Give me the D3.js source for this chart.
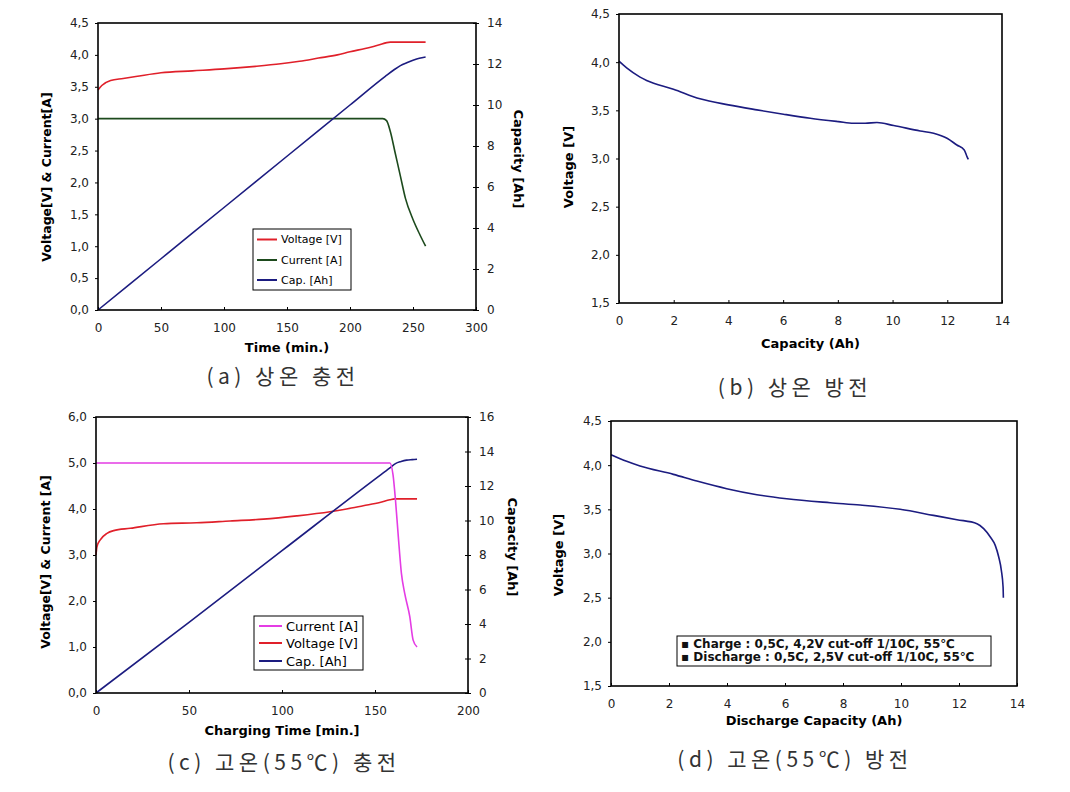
<!DOCTYPE html>
<html><head><meta charset="utf-8">
<script src="https://cdn.jsdelivr.net/npm/d3@7"></script>
<style>body{margin:0;background:#fff}svg{display:block}</style>
</head><body>
<svg id="c" width="1070" height="792"></svg>
<script>
// ---- data ----
// (a) room-temperature charge
const aVoltT = [0,3,10,20,30,50,75,100,125,145,160,175,190,200,212,222,232,245,260];
const aVoltV = [3.45,3.52,3.60,3.63,3.66,3.72,3.75,3.78,3.82,3.86,3.90,3.95,4.00,4.05,4.10,4.15,4.20,4.20,4.20];
const aCurT = [0,100,200,226,229,232,236,240,244,250,255,260];
const aCurI = [3.0,3.0,3.0,3.0,2.97,2.8,2.45,2.1,1.75,1.42,1.2,1.0];
const aCapT = [0,50,100,150,200,228,235,240,245,250,255,260];
const aCapC = [0,2.5,5.0,7.5,10.0,11.4,11.72,11.92,12.06,12.18,12.28,12.34];
// (b) room-temperature discharge
const bCap = [0,0.28,0.77,1.01,1.99,2.96,4.0,5.04,6.01,6.99,8.02,8.57,9.0,9.43,10.04,11.01,11.5,11.99,12.35,12.62,12.72,12.77];
const bVolt = [4.01,3.94,3.845,3.81,3.72,3.62,3.557,3.505,3.46,3.418,3.383,3.366,3.366,3.373,3.342,3.286,3.262,3.21,3.14,3.089,3.02,2.99];
// (c) high-temperature (55C) charge
const cCurT = [0,100,158,159.7,161,162.4,164.2,166,168.7,170.5,172.6];
const cCurI = [5.0,5.0,5.0,4.74,4.2,3.47,2.6,2.16,1.66,1.15,1.0];
const cVoltT = [0,0.5,2.3,5.9,9.5,18.4,36.3,54.2,72.1,90,107.9,125.8,134.7,143.7,152.6,158,160.6,172.6];
const cVoltV = [3.0,3.18,3.33,3.47,3.53,3.58,3.68,3.70,3.74,3.78,3.85,3.94,4.0,4.07,4.14,4.2,4.22,4.22];
const cCapT = [0,50,100,150,158,161,164,167,170,172.6];
const cCapC = [0,4.1,8.25,12.4,13.05,13.3,13.42,13.5,13.53,13.55];
// (d) high-temperature (55C) discharge
const dCap = [0,0.54,1.0,2.15,2.96,3.99,5.03,6.06,7.56,8.59,9.97,11.12,11.93,12.62,12.85,13.08,13.25,13.37,13.46,13.52,13.53];
const dVolt = [4.119,4.043,3.99,3.896,3.82,3.734,3.666,3.62,3.575,3.549,3.5,3.432,3.383,3.338,3.281,3.187,3.092,2.96,2.81,2.62,2.5];
// ticks
const aLeftTicks = [0,0.5,1,1.5,2,2.5,3,3.5,4,4.5];
const aRightTicks = [0,2,4,6,8,10,12,14];
const aXTicks = [0,50,100,150,200,250,300];
const bYTicks = [1.5,2,2.5,3,3.5,4,4.5];
const bXTicks = [0,2,4,6,8,10,12,14];
const cLeftTicks = [0,1,2,3,4,5,6];
const cRightTicks = [0,2,4,6,8,10,12,14,16];
const cXTicks = [0,50,100,150,200];
const dYTicks = [1.5,2,2.5,3,3.5,4,4.5];
const dXTicks = [0,2,4,6,8,10,12,14];
// legend / captions
const aLegend = ["Voltage [V]","Current [A]","Cap. [Ah]"];
const cLegend = ["Current [A]","Voltage [V]","Cap. [Ah]"];
const dNotes = ["▪ Charge : 0,5C, 4,2V cut-off 1/10C, 55℃","▪ Discharge : 0,5C, 2,5V cut-off 1/10C, 55℃"];
const captions = ["(a) 상온 충전","(b) 상온 방전","(c) 고온(55℃) 충전","(d) 고온(55℃) 방전"];

const RED="#e0202a", GREEN="#1d4a1d", NAVY="#1c1c80", MAG="#e43ce4";
const svg = d3.select("#c");
const fmt1 = d => d.toFixed(1).replace(".", ",");
const fmt0 = d => String(d);
const TICKFONT = "DejaVu Sans, sans-serif";

function axisStyle(g){
  g.selectAll("path").remove();
  g.selectAll("line").attr("stroke","#000").attr("stroke-width",1);
  g.selectAll("text").attr("font-family",TICKFONT).attr("font-size",12).attr("fill","#222");
}

function panel(o){
  const x = d3.scaleLinear().domain(o.xd).range([o.x0,o.x1]);
  const y = d3.scaleLinear().domain(o.yd).range([o.y1,o.y0]);
  let y2 = null;
  if (o.y2d) y2 = d3.scaleLinear().domain(o.y2d).range([o.y1,o.y0]);
  svg.append("g").attr("transform",`translate(0,${o.y1})`)
    .call(d3.axisBottom(x).tickValues(o.xt).tickFormat(fmt0).tickSize(4).tickPadding(o.xpad||9))
    .call(axisStyle).call(g=>g.selectAll("line").attr("y1",-3).attr("y2",0));
  svg.append("g").attr("transform",`translate(${o.x0},0)`)
    .call(d3.axisLeft(y).tickValues(o.yt).tickFormat(fmt1).tickSize(3).tickPadding(6))
    .call(axisStyle);
  if (y2) {
    svg.append("g").attr("transform",`translate(${o.x1},0)`)
      .call(d3.axisRight(y2).tickValues(o.y2t).tickFormat(fmt0).tickSize(3).tickPadding(8))
      .call(axisStyle).call(g=>g.selectAll("line").attr("x1",-3).attr("x2",3));
  }
  o.series.forEach(s=>{
    const sc = s.right ? y2 : y;
    const line = d3.line().x((d,i)=>x(s.xs[i])).y((d,i)=>sc(s.ys[i])).curve(d3.curveMonotoneX);
    svg.append("path").datum(s.xs).attr("d",line).attr("fill","none")
      .attr("stroke",s.color).attr("stroke-width",s.w||1.6);
  });
  svg.append("rect").attr("x",o.x0).attr("y",o.y0).attr("width",o.x1-o.x0).attr("height",o.y1-o.y0)
    .attr("fill","none").attr("stroke","#000").attr("stroke-width",1.6);
  svg.append("text").attr("x",(o.x0+o.x1)/2 + (o.xtOff||0)).attr("y",o.xTitleY)
    .attr("text-anchor","middle").attr("font-family","DejaVu Sans, sans-serif").attr("font-weight","bold")
    .attr("font-size",13).text(o.xTitle);
  svg.append("text").attr("transform",`translate(${o.yTitleX},${o.yTitleCY}) rotate(-90)`)
    .attr("text-anchor","middle").attr("dominant-baseline","middle").attr("font-family","DejaVu Sans, sans-serif").attr("font-weight","bold")
    .attr("font-size",o.yTitleSize||12.5).text(o.yTitle);
  if (o.y2Title) {
    svg.append("text").attr("transform",`translate(${o.y2TitleX},${o.y2TitleCY}) rotate(90)`)
      .attr("text-anchor","middle").attr("dominant-baseline","middle").attr("font-family","DejaVu Sans, sans-serif").attr("font-weight","bold")
      .attr("font-size",13).text(o.y2Title);
  }
  svg.append("text").attr("x",o.capX).attr("y",o.capY).attr("text-anchor","middle")
    .attr("font-family","Noto Sans CJK KR, sans-serif").attr("font-size",21).attr("letter-spacing",o.capLS||4.5)
    .attr("fill","#333").text(o.caption);
  return {x,y,y2};
}

function legend(bx,by,bw,bh,items,colors,rowY,lx0,lx1,tx,fs){
  svg.append("rect").attr("x",bx).attr("y",by).attr("width",bw).attr("height",bh)
    .attr("fill","#fff").attr("stroke","#000").attr("stroke-width",1);
  items.forEach((t,i)=>{
    svg.append("line").attr("x1",lx0).attr("x2",lx1).attr("y1",rowY[i]).attr("y2",rowY[i])
      .attr("stroke",colors[i]).attr("stroke-width",2);
    svg.append("text").attr("x",tx).attr("y",rowY[i]).attr("dominant-baseline","central")
      .attr("font-family","DejaVu Sans, sans-serif").attr("font-size",fs).text(t);
  });
}

// (a)
panel({x0:98,x1:476,y0:23,y1:310,xd:[0,300],yd:[0,4.5],y2d:[0,14],
  xt:aXTicks,yt:aLeftTicks,y2t:aRightTicks,
  series:[{xs:aCurT,ys:aCurI,color:GREEN},{xs:aVoltT,ys:aVoltV,color:RED},{xs:aCapT,ys:aCapC,color:NAVY,right:true}],
  xTitle:"Time (min.)",xTitleY:352,
  yTitle:"Voltage[V] & Current[A]",yTitleX:47,yTitleCY:177,
  y2Title:"Capacity [Ah]",y2TitleX:517,y2TitleCY:159,
  caption:captions[0],capX:283,capY:384});
legend(253,229,98,61,aLegend,[RED,GREEN,NAVY],[239.5,260,280],257,277,281,11);

// (b)
panel({x0:619,x1:1002,y0:14,y1:303,xd:[0,14],yd:[1.5,4.5],
  xt:bXTicks,yt:bYTicks,
  series:[{xs:bCap,ys:bVolt,color:NAVY}],
  xTitle:"Capacity (Ah)",xTitleY:348,
  yTitle:"Voltage [V]",yTitleX:569,yTitleCY:167,yTitleSize:13,
  caption:captions[1],capX:795,capY:395});

// (c)
panel({x0:96,x1:468,y0:417,y1:693,xd:[0,200],yd:[0,6],y2d:[0,16],
  xt:cXTicks,yt:cLeftTicks,y2t:cRightTicks,
  series:[{xs:cVoltT,ys:cVoltV,color:RED},{xs:cCapT,ys:cCapC,color:NAVY,right:true},{xs:cCurT,ys:cCurI,color:MAG}],
  xTitle:"Charging Time [min.]",xTitleY:735,
  yTitle:"Voltage[V] & Current [A]",yTitleX:46,yTitleCY:562,
  y2Title:"Capacity [Ah]",y2TitleX:511,y2TitleCY:547,
  caption:captions[2],capX:284,capY:770});
legend(254,616,109,54,cLegend,[MAG,RED,NAVY],[626,643,661],259,282,286,13);

// (d)
panel({x0:611,x1:1017,y0:421,y1:686,xd:[0,14],yd:[1.5,4.5],
  xt:dXTicks,yt:dYTicks,
  series:[{xs:dCap,ys:dVolt,color:NAVY}],
  xTitle:"Discharge Capacity (Ah)",xTitleY:725,
  yTitle:"Voltage [V]",yTitleX:559,yTitleCY:555,yTitleSize:13,
  caption:captions[3],capX:795,capY:767});
svg.append("rect").attr("x",677).attr("y",636).attr("width",314).attr("height",30)
  .attr("fill","#fff").attr("stroke","#000").attr("stroke-width",1);
dNotes.forEach((t,i)=>{
  svg.append("text").attr("x",681).attr("y",[644,657][i]).attr("dominant-baseline","central")
    .attr("font-family","DejaVu Sans, sans-serif").attr("font-size",12).attr("font-weight","bold")
    .attr("fill","#111").text(t);
});
</script>
</body></html>
